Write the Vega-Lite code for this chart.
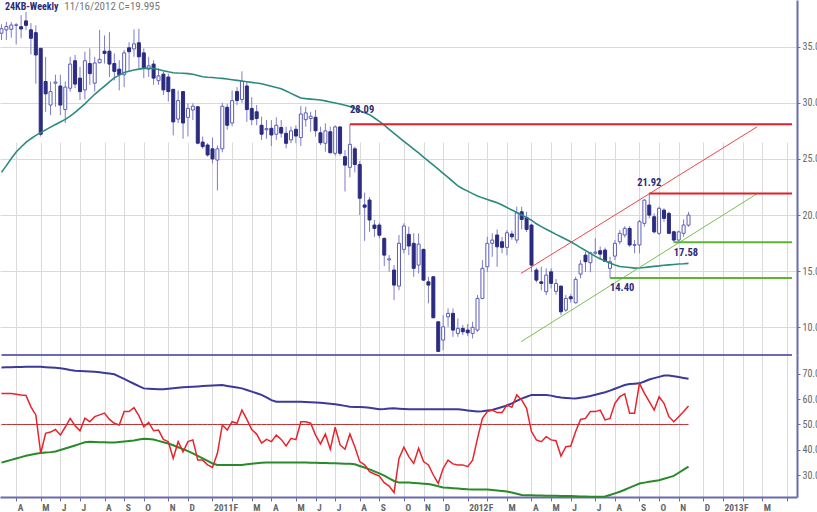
{
"$schema": "https://vega.github.io/schema/vega-lite/v6.json",
"width": 797,
"height": 497,
"autosize": {"type": "none"},
"padding": {"left": 0, "top": 0, "right": 20, "bottom": 15},
"background": "#ffffff",
"config": {
 "view": {"stroke": null},
 "font": "Roboto Condensed, DejaVu Sans Condensed, Liberation Sans Narrow, Liberation Sans, sans-serif",
 "axis": {"grid": true, "gridColor": "#dadada", "gridWidth": 1, "domainColor": "#6a6ab4", "domainWidth": 2, "tickColor": "#6a6ab4", "tickWidth": 1, "labelColor": "#666666", "labelOverlap": false, "labelFlush": false, "labelBound": false},
 "axisX": {"tickSize": 4, "labelAlign": "left", "labelBaseline": "top", "labelPadding": 1, "labelOffset": 1, "labelFontSize": 9.5, "labelFontWeight": "bold"},
 "axisY": {"tickSize": 3, "labelPadding": 2, "labelFontSize": 10}
},
"datasets": {
"bars": [
{"d":"2010-03-12","o":36.2,"h":37.0,"l":35.6,"c":36.6,"ma":23.8,"rsi":62.3,"up":72.6,"lo":34.9},
{"d":"2010-03-19","o":36.5,"h":37.2,"l":35.6,"c":36.8,"ma":24.4,"rsi":62.3,"up":72.65,"lo":35.45},
{"d":"2010-03-26","o":36.55,"h":37.2,"l":35.8,"c":36.93,"ma":25.04,"rsi":62.3,"up":72.7,"lo":36.0},
{"d":"2010-04-02","o":36.9,"h":37.1,"l":35.2,"c":36.95,"ma":25.62,"rsi":62.0,"up":72.74,"lo":36.54},
{"d":"2010-04-09","o":36.78,"h":37.8,"l":35.75,"c":36.58,"ma":26.06,"rsi":61.7,"up":72.77,"lo":37.09},
{"d":"2010-04-16","o":37.3,"h":38.1,"l":36.5,"c":36.9,"ma":26.47,"rsi":61.5,"up":72.81,"lo":37.61},
{"d":"2010-04-23","o":36.5,"h":37.1,"l":34.3,"c":35.75,"ma":26.8,"rsi":57.0,"up":72.85,"lo":38.03},
{"d":"2010-04-30","o":36.25,"h":36.9,"l":31.7,"c":34.26,"ma":27.1,"rsi":53.8,"up":72.88,"lo":38.45},
{"d":"2010-05-07","o":34.85,"h":34.9,"l":27.0,"c":27.2,"ma":27.34,"rsi":38.6,"up":72.82,"lo":38.71},
{"d":"2010-05-14","o":31.9,"h":34.1,"l":29.2,"c":30.8,"ma":27.59,"rsi":46.5,"up":72.68,"lo":38.89},
{"d":"2010-05-21","o":29.8,"h":31.9,"l":28.9,"c":31.0,"ma":27.83,"rsi":47.0,"up":72.55,"lo":39.06},
{"d":"2010-05-28","o":31.75,"h":32.5,"l":29.65,"c":31.85,"ma":28.07,"rsi":48.0,"up":72.41,"lo":39.33},
{"d":"2010-06-04","o":31.5,"h":32.5,"l":28.9,"c":29.8,"ma":28.29,"rsi":45.8,"up":72.28,"lo":39.92},
{"d":"2010-06-11","o":29.4,"h":31.9,"l":28.2,"c":31.4,"ma":28.52,"rsi":49.0,"up":71.95,"lo":40.49},
{"d":"2010-06-18","o":31.3,"h":34.1,"l":31.0,"c":33.45,"ma":28.82,"rsi":52.4,"up":71.59,"lo":41.08},
{"d":"2010-06-25","o":33.75,"h":34.26,"l":31.3,"c":31.67,"ma":29.14,"rsi":49.5,"up":71.28,"lo":41.7},
{"d":"2010-07-02","o":32.2,"h":33.2,"l":30.25,"c":31.0,"ma":29.52,"rsi":47.5,"up":71.18,"lo":42.31},
{"d":"2010-07-09","o":31.15,"h":34.55,"l":30.3,"c":33.75,"ma":29.91,"rsi":52.5,"up":71.08,"lo":42.94},
{"d":"2010-07-16","o":33.5,"h":34.85,"l":31.6,"c":32.6,"ma":30.34,"rsi":51.1,"up":70.98,"lo":43.16},
{"d":"2010-07-23","o":31.75,"h":34.1,"l":31.0,"c":33.55,"ma":30.76,"rsi":53.1,"up":70.86,"lo":43.08},
{"d":"2010-07-30","o":33.57,"h":36.5,"l":33.5,"c":33.87,"ma":31.12,"rsi":53.8,"up":70.64,"lo":43.01},
{"d":"2010-08-06","o":34.6,"h":36.0,"l":33.5,"c":34.4,"ma":31.49,"rsi":54.5,"up":70.41,"lo":42.94},
{"d":"2010-08-13","o":34.6,"h":36.3,"l":32.3,"c":33.45,"ma":31.87,"rsi":52.0,"up":70.19,"lo":42.86},
{"d":"2010-08-20","o":33.5,"h":34.4,"l":32.0,"c":32.8,"ma":32.22,"rsi":50.5,"up":69.87,"lo":42.83},
{"d":"2010-08-27","o":33.0,"h":33.8,"l":31.1,"c":32.5,"ma":32.47,"rsi":49.8,"up":68.95,"lo":43.03},
{"d":"2010-09-03","o":32.5,"h":34.7,"l":31.4,"c":34.45,"ma":32.7,"rsi":55.1,"up":68.02,"lo":43.23},
{"d":"2010-09-10","o":34.9,"h":35.4,"l":32.8,"c":34.55,"ma":32.82,"rsi":55.1,"up":67.08,"lo":43.43},
{"d":"2010-09-17","o":34.8,"h":36.55,"l":34.1,"c":35.25,"ma":32.93,"rsi":56.7,"up":66.13,"lo":43.65},
{"d":"2010-09-24","o":35.35,"h":36.6,"l":33.1,"c":34.1,"ma":33.0,"rsi":53.5,"up":65.15,"lo":44.05},
{"d":"2010-10-01","o":34.45,"h":34.85,"l":32.2,"c":33.07,"ma":33.07,"rsi":49.1,"up":64.29,"lo":44.38},
{"d":"2010-10-08","o":33.0,"h":34.1,"l":32.3,"c":33.3,"ma":33.07,"rsi":50.8,"up":64.19,"lo":44.24},
{"d":"2010-10-15","o":33.45,"h":33.8,"l":31.6,"c":32.2,"ma":33.06,"rsi":47.5,"up":64.09,"lo":44.05},
{"d":"2010-10-22","o":31.97,"h":33.07,"l":31.6,"c":32.4,"ma":32.96,"rsi":47.8,"up":63.99,"lo":43.52},
{"d":"2010-10-29","o":32.55,"h":32.8,"l":30.7,"c":31.15,"ma":32.85,"rsi":44.1,"up":63.92,"lo":43.0},
{"d":"2010-11-05","o":32.3,"h":32.6,"l":30.1,"c":31.0,"ma":32.76,"rsi":43.2,"up":64.12,"lo":42.47},
{"d":"2010-11-12","o":31.2,"h":31.25,"l":27.1,"c":28.3,"ma":32.68,"rsi":36.6,"up":64.32,"lo":41.77},
{"d":"2010-11-19","o":28.55,"h":31.1,"l":28.2,"c":30.2,"ma":32.65,"rsi":43.2,"up":64.52,"lo":40.99},
{"d":"2010-11-26","o":31.0,"h":31.0,"l":26.8,"c":28.2,"ma":32.63,"rsi":39.2,"up":64.71,"lo":40.24},
{"d":"2010-12-03","o":28.7,"h":29.95,"l":27.0,"c":29.5,"ma":32.6,"rsi":43.2,"up":64.83,"lo":39.46},
{"d":"2010-12-10","o":29.36,"h":29.95,"l":28.46,"c":29.7,"ma":32.55,"rsi":43.9,"up":64.96,"lo":38.54},
{"d":"2010-12-17","o":29.65,"h":29.7,"l":26.3,"c":26.4,"ma":32.44,"rsi":35.9,"up":65.08,"lo":37.56},
{"d":"2010-12-24","o":26.5,"h":27.0,"l":25.9,"c":26.1,"ma":32.32,"rsi":35.9,"up":65.2,"lo":36.56},
{"d":"2010-12-31","o":26.24,"h":26.4,"l":25.2,"c":25.35,"ma":32.28,"rsi":34.0,"up":65.3,"lo":35.56},
{"d":"2011-01-07","o":25.9,"h":26.9,"l":24.6,"c":25.0,"ma":32.25,"rsi":33.0,"up":65.4,"lo":34.58},
{"d":"2011-01-14","o":24.9,"h":26.2,"l":22.2,"c":25.9,"ma":32.21,"rsi":38.6,"up":65.5,"lo":34.0},
{"d":"2011-01-21","o":25.9,"h":30.0,"l":25.6,"c":29.7,"ma":32.18,"rsi":49.8,"up":65.59,"lo":34.0},
{"d":"2011-01-28","o":29.6,"h":29.9,"l":27.6,"c":28.0,"ma":32.12,"rsi":47.8,"up":65.27,"lo":34.0},
{"d":"2011-02-04","o":28.2,"h":31.1,"l":27.9,"c":30.2,"ma":32.06,"rsi":51.1,"up":64.95,"lo":34.0},
{"d":"2011-02-11","o":31.0,"h":31.4,"l":29.8,"c":30.2,"ma":32.0,"rsi":50.5,"up":64.63,"lo":34.0},
{"d":"2011-02-18","o":30.3,"h":32.8,"l":30.0,"c":31.9,"ma":31.94,"rsi":55.7,"up":64.3,"lo":34.0},
{"d":"2011-02-25","o":31.5,"h":31.9,"l":28.3,"c":29.4,"ma":31.88,"rsi":52.0,"up":63.66,"lo":34.22},
{"d":"2011-03-04","o":29.5,"h":30.5,"l":28.0,"c":28.5,"ma":31.82,"rsi":48.0,"up":63.01,"lo":34.45},
{"d":"2011-03-11","o":29.2,"h":29.8,"l":28.0,"c":28.6,"ma":31.76,"rsi":46.2,"up":62.36,"lo":34.67},
{"d":"2011-03-18","o":28.0,"h":28.76,"l":26.7,"c":27.2,"ma":31.7,"rsi":42.6,"up":61.73,"lo":34.89},
{"d":"2011-03-25","o":27.6,"h":28.46,"l":26.8,"c":27.7,"ma":31.59,"rsi":44.1,"up":60.7,"lo":34.91},
{"d":"2011-04-01","o":27.73,"h":28.46,"l":26.15,"c":27.13,"ma":31.48,"rsi":43.2,"up":59.66,"lo":34.92},
{"d":"2011-04-08","o":27.2,"h":28.7,"l":26.7,"c":28.0,"ma":31.37,"rsi":45.8,"up":59.0,"lo":34.94},
{"d":"2011-04-15","o":27.8,"h":28.46,"l":26.92,"c":27.3,"ma":31.26,"rsi":44.1,"up":59.0,"lo":34.95},
{"d":"2011-04-22","o":27.28,"h":27.87,"l":25.94,"c":26.39,"ma":31.05,"rsi":41.5,"up":59.0,"lo":34.96},
{"d":"2011-04-29","o":26.7,"h":27.87,"l":26.39,"c":27.5,"ma":30.84,"rsi":44.5,"up":59.0,"lo":34.97},
{"d":"2011-05-06","o":27.64,"h":28.0,"l":26.4,"c":27.04,"ma":30.63,"rsi":44.0,"up":59.0,"lo":34.99},
{"d":"2011-05-13","o":26.9,"h":29.71,"l":26.15,"c":29.0,"ma":30.42,"rsi":51.1,"up":59.0,"lo":35.0},
{"d":"2011-05-20","o":28.5,"h":29.65,"l":27.87,"c":29.1,"ma":30.37,"rsi":51.1,"up":58.91,"lo":34.95},
{"d":"2011-05-27","o":28.6,"h":29.2,"l":27.42,"c":28.8,"ma":30.33,"rsi":50.5,"up":58.81,"lo":34.89},
{"d":"2011-06-03","o":28.71,"h":29.36,"l":26.98,"c":27.51,"ma":30.29,"rsi":45.8,"up":58.71,"lo":34.84},
{"d":"2011-06-10","o":27.33,"h":27.87,"l":26.24,"c":26.44,"ma":30.25,"rsi":42.3,"up":58.61,"lo":34.78},
{"d":"2011-06-17","o":26.4,"h":28.17,"l":25.64,"c":27.5,"ma":30.17,"rsi":46.2,"up":58.43,"lo":34.72},
{"d":"2011-06-24","o":27.42,"h":27.87,"l":25.5,"c":25.55,"ma":30.08,"rsi":40.2,"up":58.24,"lo":34.67},
{"d":"2011-07-01","o":25.5,"h":28.0,"l":25.3,"c":27.85,"ma":29.99,"rsi":48.9,"up":58.01,"lo":34.61},
{"d":"2011-07-08","o":27.85,"h":27.9,"l":25.3,"c":25.5,"ma":29.9,"rsi":41.9,"up":57.69,"lo":34.56},
{"d":"2011-07-15","o":25.2,"h":25.79,"l":22.1,"c":24.45,"ma":29.79,"rsi":40.2,"up":57.37,"lo":34.5},
{"d":"2011-07-22","o":24.25,"h":28.09,"l":23.36,"c":26.3,"ma":29.67,"rsi":46.2,"up":57.05,"lo":34.44},
{"d":"2011-07-29","o":25.9,"h":26.1,"l":23.8,"c":24.5,"ma":29.49,"rsi":41.2,"up":56.95,"lo":34.23},
{"d":"2011-08-05","o":24.5,"h":24.8,"l":20.0,"c":21.5,"ma":29.3,"rsi":35.3,"up":56.89,"lo":33.59},
{"d":"2011-08-12","o":20.9,"h":22.0,"l":17.7,"c":20.7,"ma":29.12,"rsi":34.0,"up":56.83,"lo":32.96},
{"d":"2011-08-19","o":21.34,"h":21.6,"l":18.5,"c":19.56,"ma":28.94,"rsi":31.3,"up":56.66,"lo":32.24},
{"d":"2011-08-26","o":19.11,"h":19.56,"l":18.06,"c":18.81,"ma":28.65,"rsi":30.4,"up":56.36,"lo":31.43},
{"d":"2011-09-02","o":19.11,"h":19.3,"l":17.92,"c":18.2,"ma":28.35,"rsi":29.6,"up":56.06,"lo":30.62},
{"d":"2011-09-09","o":17.92,"h":18.0,"l":15.45,"c":16.43,"ma":28.01,"rsi":27.0,"up":56.13,"lo":29.76},
{"d":"2011-09-16","o":16.0,"h":16.43,"l":14.94,"c":16.1,"ma":27.64,"rsi":25.6,"up":56.28,"lo":28.69},
{"d":"2011-09-23","o":15.1,"h":15.54,"l":12.42,"c":13.76,"ma":27.28,"rsi":23.0,"up":56.38,"lo":27.64},
{"d":"2011-09-30","o":13.67,"h":18.22,"l":13.31,"c":17.48,"ma":26.92,"rsi":36.6,"up":56.26,"lo":27.0},
{"d":"2011-10-07","o":16.94,"h":19.26,"l":16.59,"c":19.02,"ma":26.57,"rsi":41.0,"up":56.14,"lo":27.0},
{"d":"2011-10-14","o":18.28,"h":18.96,"l":16.43,"c":17.24,"ma":26.22,"rsi":37.3,"up":56.02,"lo":27.0},
{"d":"2011-10-21","o":17.48,"h":18.37,"l":14.5,"c":15.25,"ma":25.88,"rsi":34.6,"up":56.0,"lo":26.88},
{"d":"2011-10-28","o":15.54,"h":18.37,"l":14.8,"c":17.41,"ma":25.53,"rsi":40.6,"up":56.0,"lo":26.73},
{"d":"2011-11-04","o":16.94,"h":17.0,"l":14.14,"c":14.2,"ma":25.17,"rsi":35.3,"up":56.0,"lo":26.58},
{"d":"2011-11-11","o":14.05,"h":14.5,"l":12.13,"c":13.76,"ma":24.81,"rsi":34.0,"up":56.0,"lo":26.44},
{"d":"2011-11-18","o":14.5,"h":14.55,"l":10.79,"c":10.85,"ma":24.45,"rsi":30.0,"up":56.0,"lo":26.02},
{"d":"2011-11-25","o":10.49,"h":10.5,"l":7.81,"c":7.85,"ma":24.09,"rsi":26.7,"up":56.0,"lo":25.52},
{"d":"2011-12-02","o":8.86,"h":11.09,"l":7.97,"c":10.04,"ma":23.72,"rsi":32.6,"up":56.0,"lo":25.08},
{"d":"2011-12-09","o":10.93,"h":11.68,"l":10.04,"c":11.24,"ma":23.35,"rsi":35.9,"up":56.0,"lo":24.93},
{"d":"2011-12-16","o":11.24,"h":11.68,"l":9.15,"c":9.75,"ma":22.97,"rsi":34.4,"up":56.0,"lo":24.78},
{"d":"2011-12-23","o":9.45,"h":10.79,"l":9.15,"c":9.9,"ma":22.6,"rsi":34.0,"up":56.0,"lo":24.64},
{"d":"2011-12-30","o":9.9,"h":10.2,"l":9.3,"c":9.6,"ma":22.34,"rsi":34.0,"up":55.82,"lo":24.49},
{"d":"2012-01-06","o":9.75,"h":10.3,"l":9.2,"c":9.51,"ma":22.13,"rsi":33.3,"up":55.57,"lo":24.34},
{"d":"2012-01-13","o":9.45,"h":10.5,"l":9.0,"c":9.99,"ma":21.91,"rsi":35.9,"up":55.36,"lo":24.3},
{"d":"2012-01-20","o":9.75,"h":12.87,"l":9.6,"c":12.57,"ma":21.7,"rsi":44.5,"up":55.16,"lo":24.3},
{"d":"2012-01-27","o":12.57,"h":15.99,"l":12.5,"c":15.25,"ma":21.53,"rsi":52.4,"up":55.26,"lo":24.3},
{"d":"2012-02-03","o":15.39,"h":18.06,"l":14.94,"c":17.48,"ma":21.38,"rsi":55.1,"up":55.49,"lo":24.24},
{"d":"2012-02-10","o":17.48,"h":18.37,"l":16.28,"c":17.77,"ma":21.24,"rsi":55.7,"up":55.75,"lo":24.05},
{"d":"2012-02-17","o":18.22,"h":18.72,"l":15.39,"c":17.17,"ma":21.09,"rsi":54.7,"up":56.33,"lo":23.86},
{"d":"2012-02-24","o":17.62,"h":18.06,"l":16.6,"c":17.12,"ma":20.89,"rsi":54.7,"up":56.92,"lo":23.66},
{"d":"2012-03-02","o":17.12,"h":18.66,"l":16.43,"c":18.42,"ma":20.67,"rsi":57.7,"up":57.5,"lo":23.47},
{"d":"2012-03-09","o":18.31,"h":18.6,"l":17.8,"c":18.06,"ma":20.45,"rsi":56.8,"up":58.36,"lo":23.07},
{"d":"2012-03-16","o":17.77,"h":20.74,"l":17.48,"c":20.2,"ma":20.23,"rsi":61.7,"up":59.36,"lo":22.57},
{"d":"2012-03-23","o":20.29,"h":20.74,"l":18.72,"c":19.61,"ma":20.0,"rsi":59.7,"up":60.21,"lo":22.1},
{"d":"2012-03-30","o":19.79,"h":20.29,"l":18.5,"c":18.72,"ma":19.77,"rsi":56.4,"up":60.96,"lo":22.04},
{"d":"2012-04-06","o":19.11,"h":19.2,"l":14.94,"c":15.54,"ma":19.54,"rsi":47.2,"up":61.7,"lo":21.98},
{"d":"2012-04-13","o":15.1,"h":15.3,"l":14.0,"c":14.2,"ma":19.22,"rsi":43.9,"up":61.7,"lo":21.93},
{"d":"2012-04-20","o":14.05,"h":15.4,"l":13.3,"c":13.91,"ma":18.97,"rsi":43.2,"up":61.7,"lo":21.87},
{"d":"2012-04-27","o":13.16,"h":15.25,"l":12.87,"c":14.65,"ma":18.74,"rsi":45.2,"up":61.7,"lo":21.82},
{"d":"2012-05-04","o":14.94,"h":15.25,"l":13.46,"c":13.91,"ma":18.51,"rsi":43.9,"up":61.42,"lo":21.78},
{"d":"2012-05-11","o":13.2,"h":14.3,"l":12.9,"c":13.9,"ma":18.28,"rsi":43.6,"up":60.97,"lo":21.75},
{"d":"2012-05-18","o":13.67,"h":13.7,"l":11.09,"c":11.38,"ma":18.06,"rsi":37.5,"up":60.69,"lo":21.73},
{"d":"2012-05-25","o":11.53,"h":12.87,"l":11.38,"c":12.57,"ma":17.84,"rsi":41.2,"up":60.52,"lo":21.71},
{"d":"2012-06-01","o":12.72,"h":12.95,"l":12.2,"c":12.54,"ma":17.62,"rsi":41.5,"up":60.34,"lo":21.66},
{"d":"2012-06-08","o":12.18,"h":14.5,"l":12.13,"c":14.27,"ma":17.36,"rsi":47.2,"up":60.26,"lo":21.6},
{"d":"2012-06-15","o":14.74,"h":15.99,"l":14.36,"c":15.63,"ma":17.1,"rsi":52.0,"up":60.56,"lo":21.53},
{"d":"2012-06-22","o":16.43,"h":16.73,"l":14.94,"c":15.84,"ma":16.84,"rsi":52.4,"up":60.87,"lo":21.47},
{"d":"2012-06-29","o":15.75,"h":16.73,"l":14.9,"c":16.63,"ma":16.58,"rsi":55.1,"up":61.28,"lo":21.4},
{"d":"2012-07-06","o":16.6,"h":17.92,"l":16.43,"c":16.7,"ma":16.32,"rsi":55.1,"up":61.78,"lo":21.4},
{"d":"2012-07-13","o":16.82,"h":17.2,"l":16.0,"c":16.52,"ma":16.1,"rsi":55.7,"up":62.28,"lo":21.4},
{"d":"2012-07-20","o":16.88,"h":17.1,"l":15.84,"c":15.86,"ma":15.91,"rsi":51.8,"up":62.78,"lo":21.5},
{"d":"2012-07-27","o":15.25,"h":16.28,"l":14.4,"c":15.84,"ma":15.72,"rsi":52.4,"up":63.41,"lo":22.11},
{"d":"2012-08-03","o":16.34,"h":17.77,"l":15.99,"c":17.48,"ma":15.54,"rsi":58.4,"up":64.16,"lo":22.74},
{"d":"2012-08-10","o":17.62,"h":18.66,"l":17.4,"c":18.37,"ma":15.42,"rsi":61.0,"up":64.91,"lo":23.36},
{"d":"2012-08-17","o":18.22,"h":19.0,"l":18.0,"c":18.81,"ma":15.37,"rsi":62.1,"up":65.64,"lo":24.16},
{"d":"2012-08-24","o":18.81,"h":19.0,"l":17.17,"c":17.33,"ma":15.32,"rsi":54.4,"up":66.06,"lo":24.98},
{"d":"2012-08-31","o":17.3,"h":17.77,"l":16.59,"c":17.36,"ma":15.27,"rsi":54.4,"up":66.17,"lo":25.81},
{"d":"2012-09-07","o":17.33,"h":19.56,"l":16.59,"c":19.41,"ma":15.28,"rsi":66.3,"up":66.29,"lo":26.64},
{"d":"2012-09-14","o":19.26,"h":21.4,"l":18.96,"c":21.33,"ma":15.33,"rsi":62.4,"up":67.02,"lo":26.99},
{"d":"2012-09-21","o":20.89,"h":21.92,"l":19.7,"c":19.99,"ma":15.38,"rsi":59.0,"up":67.82,"lo":27.31},
{"d":"2012-09-28","o":19.85,"h":20.15,"l":18.37,"c":18.5,"ma":15.43,"rsi":55.7,"up":68.35,"lo":27.64},
{"d":"2012-10-05","o":18.37,"h":20.74,"l":18.22,"c":20.6,"ma":15.47,"rsi":61.0,"up":68.84,"lo":27.96},
{"d":"2012-10-12","o":20.44,"h":20.6,"l":19.4,"c":19.7,"ma":15.52,"rsi":58.4,"up":69.34,"lo":28.5},
{"d":"2012-10-19","o":20.15,"h":20.3,"l":18.3,"c":18.37,"ma":15.56,"rsi":53.1,"up":69.43,"lo":29.07},
{"d":"2012-10-26","o":18.51,"h":18.6,"l":17.58,"c":17.77,"ma":15.6,"rsi":51.1,"up":69.09,"lo":29.67},
{"d":"2012-11-02","o":17.77,"h":18.6,"l":17.6,"c":18.5,"ma":15.64,"rsi":53.1,"up":68.75,"lo":30.91},
{"d":"2012-11-09","o":18.37,"h":19.61,"l":18.06,"c":19.11,"ma":15.66,"rsi":55.1,"up":68.41,"lo":32.14},
{"d":"2012-11-16","o":19.1,"h":20.29,"l":18.96,"c":19.995,"ma":15.69,"rsi":57.3,"up":68.1,"lo":33.3}
],
"levels": [
{"d":"2011-07-22","p":28.09,"kind":"resistance"},
{"d":"2012-09-21","p":21.92,"kind":"resistance"},
{"d":"2012-10-26","p":17.58,"kind":"support"},
{"d":"2012-07-27","p":14.40,"kind":"support"}
],
"trends": [
{"d":"2012-03-22","p1":14.8,"d2":"2013-02-22","p2":27.87,"side":"upper"},
{"d":"2012-03-22","p1":8.71,"d2":"2013-02-21","p2":21.87,"side":"lower"}
],
"notes": [
{"d":"2011-07-22","p":29.38,"t":"28.09"},
{"d":"2012-10-26","p":16.58,"t":"17.58"},
{"d":"2012-07-27","p":13.46,"t":"14.40"}
],
"notesC": [
{"d":"2012-09-21","p":22.82,"t":"21.92"}
],
"head": [{"d":"2010-03-17T01:00:00Z","p":38.54,"t":"24KB-Weekly"}],
"sub": [{"d":"2010-06-09T13:00:00Z","p":38.54,"t":"11/16/2012  C=19.995"}],
"edge": [{"d":"2010-03-12"}]
},
"encoding": {
 "x": {"field": "d", "type": "temporal", "title": null,
  "scale": {"domain": [{"year": 2010, "month": 3, "date": 17, "hours": 1, "utc": true}, {"year": 2013, "month": 4, "date": 12, "hours": 14, "utc": true}]},
  "axis": {"orient": "bottom",
   "values": [
    {"year":2010,"month":4,"date":2,"utc":true},{"year":2010,"month":5,"date":7,"utc":true},{"year":2010,"month":6,"date":4,"utc":true},{"year":2010,"month":7,"date":2,"utc":true},{"year":2010,"month":8,"date":6,"utc":true},{"year":2010,"month":9,"date":3,"utc":true},{"year":2010,"month":10,"date":1,"utc":true},{"year":2010,"month":11,"date":5,"utc":true},{"year":2010,"month":12,"date":3,"utc":true},
    {"year":2011,"month":1,"date":7,"utc":true},{"year":2011,"month":2,"date":4,"utc":true},{"year":2011,"month":3,"date":4,"utc":true},{"year":2011,"month":4,"date":1,"utc":true},{"year":2011,"month":5,"date":6,"utc":true},{"year":2011,"month":6,"date":3,"utc":true},{"year":2011,"month":7,"date":1,"utc":true},{"year":2011,"month":8,"date":5,"utc":true},{"year":2011,"month":9,"date":2,"utc":true},{"year":2011,"month":10,"date":7,"utc":true},{"year":2011,"month":11,"date":4,"utc":true},{"year":2011,"month":12,"date":2,"utc":true},
    {"year":2012,"month":1,"date":6,"utc":true},{"year":2012,"month":2,"date":3,"utc":true},{"year":2012,"month":3,"date":2,"utc":true},{"year":2012,"month":4,"date":6,"utc":true},{"year":2012,"month":5,"date":4,"utc":true},{"year":2012,"month":6,"date":1,"utc":true},{"year":2012,"month":7,"date":6,"utc":true},{"year":2012,"month":8,"date":3,"utc":true},{"year":2012,"month":9,"date":7,"utc":true},{"year":2012,"month":10,"date":5,"utc":true},{"year":2012,"month":11,"date":2,"utc":true},{"year":2012,"month":12,"date":7,"utc":true},
    {"year":2013,"month":1,"date":4,"utc":true},{"year":2013,"month":2,"date":1,"utc":true},{"year":2013,"month":3,"date":1,"utc":true},{"year":2013,"month":4,"date":5,"utc":true}
   ],
   "labelExpr": "utcFormat(datum.value, '%Y-%m') == '2013-04' ? '' : (utcFormat(datum.value, '%m') == '01' ? utcFormat(datum.value, '%Y') : substring(utcFormat(datum.value, '%b'), 0, 1))"}}
},
"layer": [
{"layer": [
{"data": {"name": "bars"},
 "mark": {"type": "rule", "color": "#7c7cc8", "strokeWidth": 1},
 "encoding": {
  "y": {"field": "l", "type": "quantitative", "title": null,
        "scale": {"domain": [7.53, 39.16], "range": [355, 0], "nice": false, "zero": false},
        "axis": {"orient": "right", "values": [10, 15, 20, 25, 30, 35], "format": ".2f"}},
  "y2": {"field": "h"}
 }},
{"data": {"name": "bars"},
 "mark": {"type": "bar", "size": 3, "strokeWidth": 1},
 "encoding": {
  "y": {"field": "o", "type": "quantitative", "title": null,
        "scale": {"domain": [7.53, 39.16], "range": [355, 0], "nice": false, "zero": false},
        "axis": {"orient": "right", "values": [10, 15, 20, 25, 30, 35], "format": ".2f"}},
  "y2": {"field": "c"},
  "fill": {"condition": {"test": "datum.c >= datum.o", "value": "#ffffff"}, "value": "#2b2b80"},
  "stroke": {"condition": {"test": "datum.c >= datum.o", "value": "#5c5cb8"}, "value": "#2b2b80"}
 }},
{"data": {"name": "bars"},
 "mark": {"type": "line", "color": "#2b8a7e", "strokeWidth": 1.6},
 "encoding": {
  "y": {"field": "ma", "type": "quantitative", "title": null,
        "scale": {"domain": [7.53, 39.16], "range": [355, 0], "nice": false, "zero": false},
        "axis": {"orient": "right", "values": [10, 15, 20, 25, 30, 35], "format": ".2f"}}
 }},
{"data": {"name": "trends"},
 "mark": {"type": "rule", "strokeWidth": 1},
 "encoding": {
  "x2": {"field": "d2"},
  "y": {"field": "p1", "type": "quantitative", "title": null,
        "scale": {"domain": [7.53, 39.16], "range": [355, 0], "nice": false, "zero": false},
        "axis": {"orient": "right", "values": [10, 15, 20, 25, 30, 35], "format": ".2f"}},
  "y2": {"field": "p2"},
  "stroke": {"condition": {"test": "datum.side == 'upper'", "value": "#e8474c"}, "value": "#78c050"}
 }},
{"data": {"name": "levels"},
 "mark": {"type": "rule", "strokeWidth": 2},
 "encoding": {
  "x2": {"datum": {"year": 2013, "month": 4, "date": 12, "hours": 14, "utc": true}},
  "y": {"field": "p", "type": "quantitative", "title": null,
        "scale": {"domain": [7.53, 39.16], "range": [355, 0], "nice": false, "zero": false},
        "axis": {"orient": "right", "values": [10, 15, 20, 25, 30, 35], "format": ".2f"}},
  "stroke": {"condition": {"test": "datum.kind == 'resistance'", "value": "#e31e26"}, "value": "#5db534"}
 }},
{"data": {"name": "notes"},
 "mark": {"type": "text", "align": "left", "baseline": "middle", "fontSize": 10.5, "fontWeight": "bold", "color": "#2a2a7a"},
 "encoding": {
  "y": {"field": "p", "type": "quantitative", "title": null,
        "scale": {"domain": [7.53, 39.16], "range": [355, 0], "nice": false, "zero": false},
        "axis": {"orient": "right", "values": [10, 15, 20, 25, 30, 35], "format": ".2f"}},
  "text": {"field": "t"}
 }},
{"data": {"name": "notesC"},
 "mark": {"type": "text", "align": "center", "baseline": "middle", "fontSize": 10.5, "fontWeight": "bold", "color": "#2a2a7a"},
 "encoding": {
  "y": {"field": "p", "type": "quantitative", "title": null,
        "scale": {"domain": [7.53, 39.16], "range": [355, 0], "nice": false, "zero": false},
        "axis": {"orient": "right", "values": [10, 15, 20, 25, 30, 35], "format": ".2f"}},
  "text": {"field": "t"}
 }},
{"data": {"name": "head"},
 "mark": {"type": "text", "align": "left", "baseline": "middle", "fontSize": 10, "fontWeight": "bold", "color": "#2a2a7a"},
 "encoding": {
  "y": {"field": "p", "type": "quantitative", "title": null,
        "scale": {"domain": [7.53, 39.16], "range": [355, 0], "nice": false, "zero": false},
        "axis": {"orient": "right", "values": [10, 15, 20, 25, 30, 35], "format": ".2f"}},
  "text": {"field": "t"}
 }},
{"data": {"name": "sub"},
 "mark": {"type": "text", "align": "left", "baseline": "middle", "fontSize": 11, "color": "#777777"},
 "encoding": {
  "y": {"field": "p", "type": "quantitative", "title": null,
        "scale": {"domain": [7.53, 39.16], "range": [355, 0], "nice": false, "zero": false},
        "axis": {"orient": "right", "values": [10, 15, 20, 25, 30, 35], "format": ".2f"}},
  "text": {"field": "t"}
 }}
]},
{"layer": [
{"data": {"name": "bars"},
 "mark": {"type": "line", "color": "#b83030", "strokeWidth": 1},
 "encoding": {
  "y": {"datum": 50, "type": "quantitative", "title": null,
        "scale": {"domain": [21.3, 77.5], "range": [497, 355], "nice": false, "zero": false},
        "axis": {"orient": "right", "values": [30, 40, 50, 60, 70], "format": ".2f"}}
 }},
{"data": {"name": "bars"},
 "mark": {"type": "line", "color": "#3a3a9c", "strokeWidth": 2},
 "encoding": {
  "y": {"field": "up", "type": "quantitative", "title": null,
        "scale": {"domain": [21.3, 77.5], "range": [497, 355], "nice": false, "zero": false},
        "axis": {"orient": "right", "values": [30, 40, 50, 60, 70], "format": ".2f"}}
 }},
{"data": {"name": "bars"},
 "mark": {"type": "line", "color": "#2a8a2a", "strokeWidth": 2},
 "encoding": {
  "y": {"field": "lo", "type": "quantitative", "title": null,
        "scale": {"domain": [21.3, 77.5], "range": [497, 355], "nice": false, "zero": false},
        "axis": {"orient": "right", "values": [30, 40, 50, 60, 70], "format": ".2f"}}
 }},
{"data": {"name": "bars"},
 "mark": {"type": "line", "color": "#e8232b", "strokeWidth": 1.5},
 "encoding": {
  "y": {"field": "rsi", "type": "quantitative", "title": null,
        "scale": {"domain": [21.3, 77.5], "range": [497, 355], "nice": false, "zero": false},
        "axis": {"orient": "right", "values": [30, 40, 50, 60, 70], "format": ".2f"}}
 }},
{"data": {"name": "edge"},
 "mark": {"type": "rule", "color": "#6a6ab4", "strokeWidth": 2},
 "encoding": {
  "x2": {"datum": {"year": 2013, "month": 4, "date": 12, "hours": 14, "utc": true}},
  "y": {"datum": 77.5, "type": "quantitative", "title": null,
        "scale": {"domain": [21.3, 77.5], "range": [497, 355], "nice": false, "zero": false},
        "axis": {"orient": "right", "values": [30, 40, 50, 60, 70], "format": ".2f"}}
 }}
]}
],
"resolve": {"scale": {"y": "independent"}}
}
